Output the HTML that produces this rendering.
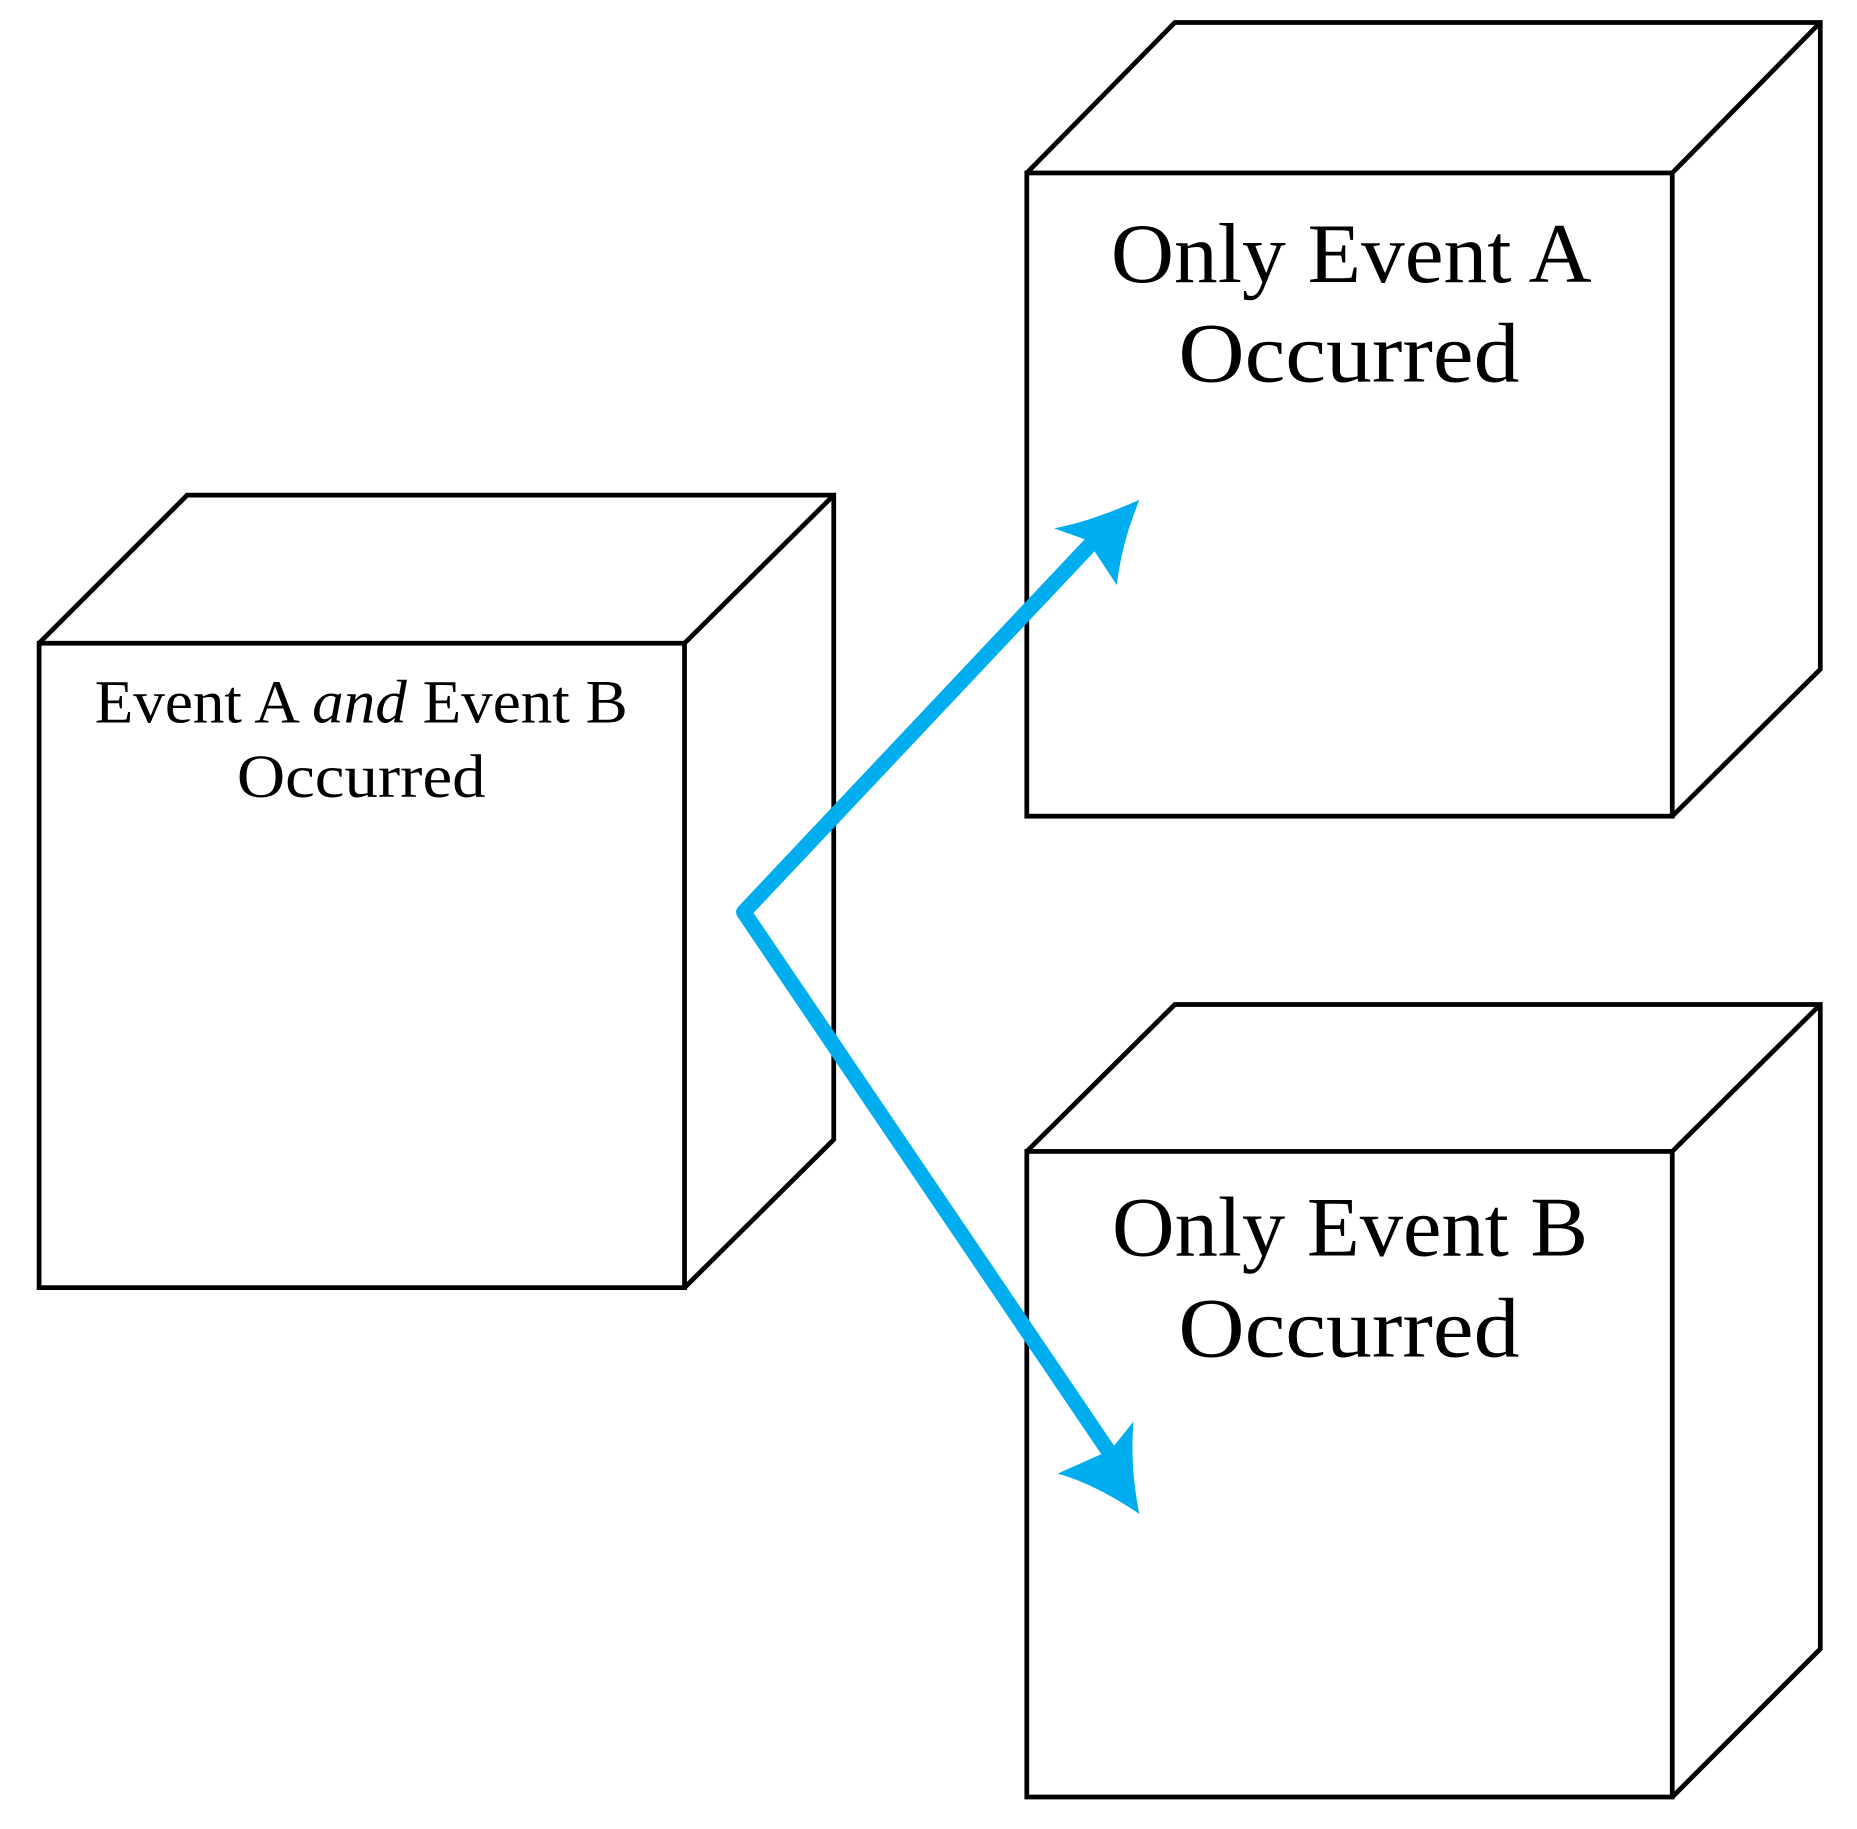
<!DOCTYPE html>
<html><head><meta charset="utf-8"><style>html,body{margin:0;padding:0;background:#fff}svg{display:block}</style></head>
<body>
<svg width="1857" height="1829" viewBox="0 0 1568 1544" preserveAspectRatio="none" xmlns="http://www.w3.org/2000/svg">
<g fill="none" stroke="#000" stroke-width="4" stroke-linejoin="miter">
<rect x="33" y="543" width="545" height="544"/>
<polyline points="33,543 158,418 704,418 704,962 578,1087"/>
<line x1="578" y1="543" x2="704" y2="418"/>
<rect x="867" y="146" width="545" height="543"/>
<polyline points="867,146 992,19 1537,19 1537,565 1412,689"/>
<line x1="1412" y1="146" x2="1537" y2="19"/>
<rect x="867" y="972" width="545" height="545"/>
<polyline points="867,972 992,848 1537,848 1537,1392 1412,1517"/>
<line x1="1412" y1="972" x2="1537" y2="848"/>
</g>
<g font-family="Liberation Serif, serif" fill="#000" text-anchor="middle">
<text x="305" y="610" font-size="52" textLength="450" lengthAdjust="spacingAndGlyphs">Event A <tspan font-style="italic">and</tspan> Event B</text>
<text x="305" y="673" font-size="52" textLength="210" lengthAdjust="spacingAndGlyphs">Occurred</text>
<text x="1141" y="238" font-size="72" textLength="406" lengthAdjust="spacingAndGlyphs">Only Event A</text>
<text x="1139" y="322" font-size="72" textLength="288" lengthAdjust="spacingAndGlyphs">Occurred</text>
<text x="1140" y="1060" font-size="72" textLength="402" lengthAdjust="spacingAndGlyphs">Only Event B</text>
<text x="1139" y="1145" font-size="72" textLength="288" lengthAdjust="spacingAndGlyphs">Occurred</text>
</g>
<g stroke="#00AEEF" stroke-width="13" stroke-linecap="round" stroke-linejoin="round" fill="none">
<polyline points="926,454 628,770 938,1228"/>
</g>
<g fill="#00AEEF">
<path d="M962,422 C930,436 910,442 890,446 L918,456 L943,494 C946,470 951,450 962,422 Z"/>
<path d="M962,1278 C957,1252 955,1228 957,1200 L938,1224 L893,1244 C915,1250 940,1263 962,1278 Z"/>
</g>
</svg>
</body></html>
